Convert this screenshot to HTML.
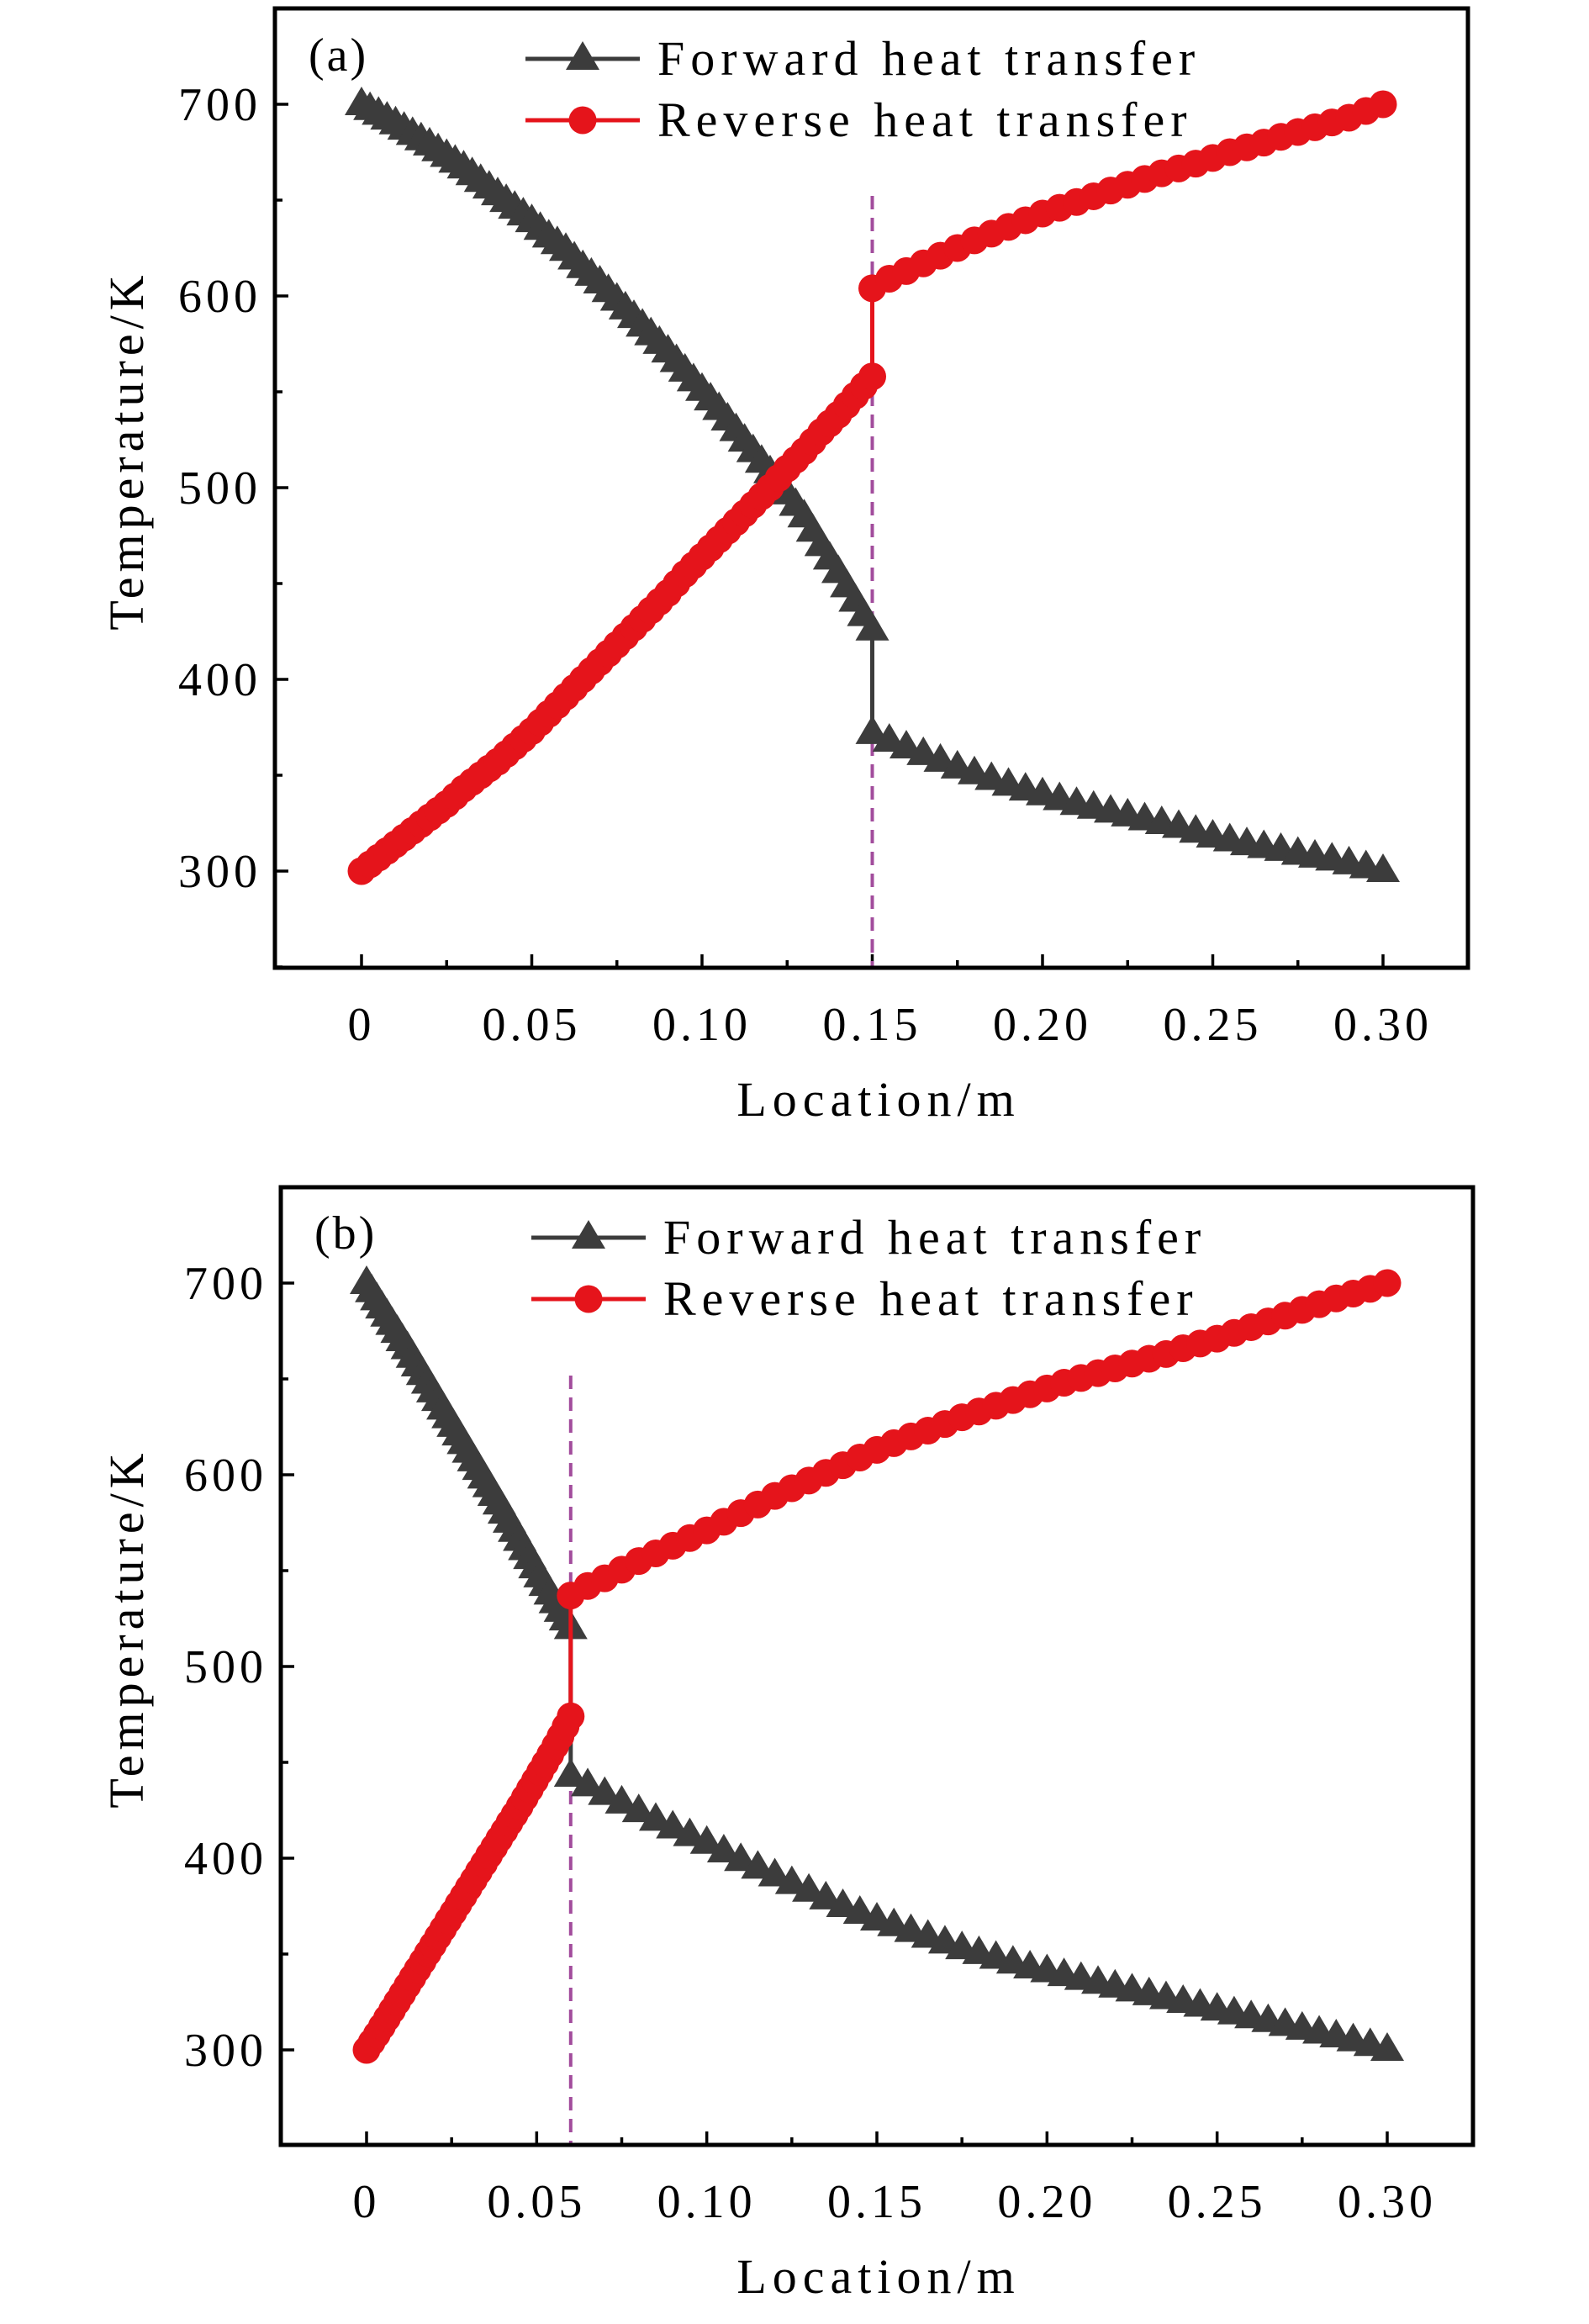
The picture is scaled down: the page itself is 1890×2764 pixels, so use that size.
<!DOCTYPE html>
<html><head><meta charset="utf-8"><style>
html,body{margin:0;padding:0;background:#fff;}
svg{display:block;font-family:"Liberation Serif",serif;}
</style></head><body>
<svg id="chart" width="1890" height="2764" viewBox="0 0 1890 2764" xmlns="http://www.w3.org/2000/svg"></svg>
<script>
// Panel (a)
const aX1=[0,.0025,.005,.0075,.01,.0125,.015,.0175,.02,.0225,.025,.0275,.03,.0325,.035,.0375,.04,.0425,.045,.0475,.05,.0525,.055,.0575,.06,.0625,.065,.0675,.07,.0725,.075,.0775,.08,.0825,.085,.0875,.09,.0925,.095,.0975,.1,.1025,.105,.1075,.11,.1125,.115,.1175,.12,.1225,.125,.1275,.13,.1325,.135,.1375,.14,.1425,.145,.1475,.15];
const aFwdY1=[700,697.5,695,692.5,690,687.2,684.5,681.7,679,676,673,670,667,663.5,660,656.5,653,649.5,646,642.5,639,635,631,627.5,624,619.5,615,611,607,602.5,598,593.5,589,584.5,580,575.5,571,566,561,556,551,546,541,535.5,530,524.5,519,513.5,508,502.5,497,491,485,477.5,470,463,456,448.5,441,433.5,426];
const aRevY1=[300,303.5,307,310.5,314,317.5,321,324.5,328,331.5,335,339,343,346.5,350,353.5,357,361,365,369,373,377.5,382,386.5,391,395.5,400,404.5,409,413.5,418,422.5,427,431.5,436,440.5,445,450,455,459.5,464,468.5,473,477.5,482,486.5,491,495.5,500,505,510,514.5,519,524,529,533.5,538,543,548,553,558];
const aX2=[.15,.155,.16,.165,.17,.175,.18,.185,.19,.195,.2,.205,.21,.215,.22,.225,.23,.235,.24,.245,.25,.255,.26,.265,.27,.275,.28,.285,.29,.295,.3];
const aFwdY2=[372,368,364.5,361,357.5,354,351,348,345,342.5,340,337.5,335,333,331,329,327,325,323,320.5,318,316,314,312.5,311,309,307.5,306,304,302,300];
const aRevY2=[604,609,613,617,621,625,629,632.5,636,639.5,643,646,649,652,655,658,661,664,666.5,669,672,675,677.5,680,683,685.5,688,690.5,693,696.5,700];
// Panel (b)
const bX1=[0,.0015,.003,.0045,.006,.0075,.009,.0105,.012,.0135,.015,.0165,.018,.0195,.021,.0225,.024,.0255,.027,.0285,.03,.0315,.033,.0345,.036,.0375,.039,.0405,.042,.0435,.045,.0465,.048,.0495,.051,.0525,.054,.0555,.057,.0585,.06];
const bFwdY1=[700,695.7,691.5,687.2,683,678.7,674.5,670.2,666,661.5,657,652.5,648,643.5,639,634.5,630,625.5,621,616.5,612,607.5,603,598.5,594,589.5,585,580.2,575.5,570.7,566,561.2,556.5,551.7,547,542.5,538,533.5,529,524.5,520];
const bRevY1=[300,304,308,312.2,316.5,320.7,325,329.2,333.5,337.7,342,346.2,350.5,354.7,359,363.2,367.5,371.7,376,380.2,384.5,388.7,393,397.2,401.5,405.7,410,414.2,418.5,422.7,427,431.5,436,440.5,445,449.5,454,458.7,463.5,468.7,474];
const bX2=[.06,.065,.07,.075,.08,.085,.09,.095,.1,.105,.11,.115,.12,.125,.13,.135,.14,.145,.15,.155,.16,.165,.17,.175,.18,.185,.19,.195,.2,.205,.21,.215,.22,.225,.23,.235,.24,.245,.25,.255,.26,.265,.27,.275,.28,.285,.29,.295,.3];
const bFwdY2=[443,438,433.5,429,424.5,420,416,412,408,403.5,399,395,391,387,383,379,375,371.5,368,365,362,359,356,353,350.5,348,345.5,343,341,339,337,335,333,331,329,327,325,323,321,319,317,315,313,311,309,307,305,302.5,300];
const bRevY2=[537,542,546,550.5,555,559,563,567,571,575.5,580,584.5,589,593,597,601,605,609,613,616.5,620,623,626.5,630,633,636,639,642,645,648,650.5,653,655.5,658,660.5,663,666,668.5,671,674,677,680,683,686,689,692,694.5,697,700];
const xTicks=[0,.05,.10,.15,.20,.25,.30];
const xTickLabels=["0","0.05","0.10","0.15","0.20","0.25","0.30"];
const yTicks=[300,400,500,600,700];
const yTickLabels=["300","400","500","600","700"];
const aSplit=0.15, bSplit=0.06;

const NS="http://www.w3.org/2000/svg";
const svg=document.getElementById('chart');
function mk(tag,attrs,parent){const e=document.createElementNS(NS,tag);for(const k in attrs)e.setAttribute(k,attrs[k]);(parent||svg).appendChild(e);return e;}

function panel(P){
  const g=mk('g',{});
  
  
  const sx=v=>P.x0+(v-0)/(0.30)*(P.x1-P.x0);
  const sy=v=>P.y300+(v-300)/400*(P.y700-P.y300);
  for(let i=0;i<=12;i++){const v=i*0.025,major=i%2==0,x=sx(v);
    const t=mk('line',{x1:x,x2:x,y1:P.bottom,y2:P.bottom-(major?16:9),stroke:'#000','stroke-width':3.5},g);
    }
  for(let v=250;v<=750;v+=50){const y=sy(v);if(y<P.top||y>P.bottom)continue;const major=v%100==0;
    const t=mk('line',{x1:P.left,x2:P.left+(major?16:9),y1:y,y2:y,stroke:'#000','stroke-width':3.5},g);
    }
  xTicks.forEach((v,i)=>{const t=mk('text',{x:sx(v),y:P.bottom+86,'text-anchor':'middle','font-size':56,'letter-spacing':'5'},g);t.textContent=xTickLabels[i];
    });
  yTicks.forEach((v,i)=>{const t=mk('text',{x:P.left-16,y:sy(v)+19,'text-anchor':'end','font-size':56,'letter-spacing':'5'},g);t.textContent=yTickLabels[i];
    });
  let t=mk('text',{x:1045,y:P.bottom+176,'text-anchor':'middle','font-size':58,'letter-spacing':'7'},g);t.textContent='Location/m';
  
  const cy=(P.top+P.bottom)/2-45;
  t=mk('text',{x:0,y:0,'text-anchor':'middle','font-size':58,'letter-spacing':'6',transform:`translate(170,${cy}) rotate(-90)`},g);t.textContent='Temperature/K';
  
  const dl=mk('line',{x1:sx(P.split),x2:sx(P.split),y1:P.dashTop,y2:P.bottom,stroke:'#a24c9c','stroke-width':4,'stroke-dasharray':'16,10'},g);
  
  function series(xs,ys,color,kind,name){
    const pts=xs.map((x,i)=>sx(x)+','+sy(ys[i])).join(' ');
    const l=mk('polyline',{points:pts,fill:'none',stroke:color,'stroke-width':5},g);
    
    xs.forEach((x,i)=>{const px=sx(x),py=sy(ys[i]);let m;
      if(kind=='tri'){m=mk('polygon',{points:`${px},${py-21} ${px-20},${py+13} ${px+20},${py+13}`,fill:color},g);}
      else{m=mk('circle',{cx:px,cy:py,r:16.5,fill:color},g);}
      });
  }
  series(P.fx,P.fy,'#3c3c3c','tri','forward');
  series(P.rx,P.ry,'#e5141b','circ','reverse');
  const b=mk('rect',{x:P.left,y:P.top,width:P.right-P.left,height:P.bottom-P.top,fill:'none',stroke:'#000','stroke-width':5},g);
  
  const L=[['Forward heat transfer','#3c3c3c','tri',P.legY1],['Reverse heat transfer','#e5141b','circ',P.legY2]];
  L.forEach(([txt,c,k,y])=>{
    const lg=mk('g',{},g);
    mk('line',{x1:P.legX,x2:P.legX+136,y1:y,y2:y,stroke:c,'stroke-width':5},lg);
    const mx=P.legX+68;
    if(k=='tri')mk('polygon',{points:`${mx},${y-21} ${mx-20},${y+13} ${mx+20},${y+13}`,fill:c},lg);
    else mk('circle',{cx:mx,cy:y,r:16.5,fill:c},lg);
    const tt=mk('text',{x:P.legX+157,y:y+19,'font-size':58,'letter-spacing':'7'},lg);tt.textContent=txt;
  });
  t=mk('text',{x:P.left+40,y:P.labY,'font-size':56,'letter-spacing':'3'},g);t.textContent=P.label;
  
}
panel({name:'panel-a',left:327,top:10,right:1746,bottom:1151,x0:430,x1:1645,y700:124,y300:1036,split:aSplit,dashTop:233,
  fx:aX1.concat(aX2),fy:aFwdY1.concat(aFwdY2),rx:aX1.concat(aX2),ry:aRevY1.concat(aRevY2),
  legX:625,legY1:70,legY2:143,label:'(a)',labY:84});
panel({name:'panel-b',left:334,top:1412,right:1752,bottom:2551,x0:436,x1:1650,y700:1526,y300:2438,split:bSplit,dashTop:1636,
  fx:bX1.concat(bX2),fy:bFwdY1.concat(bFwdY2),rx:bX1.concat(bX2),ry:bRevY1.concat(bRevY2),
  legX:632,legY1:1472,legY2:1545,label:'(b)',labY:1485});
</script>
</body></html>
